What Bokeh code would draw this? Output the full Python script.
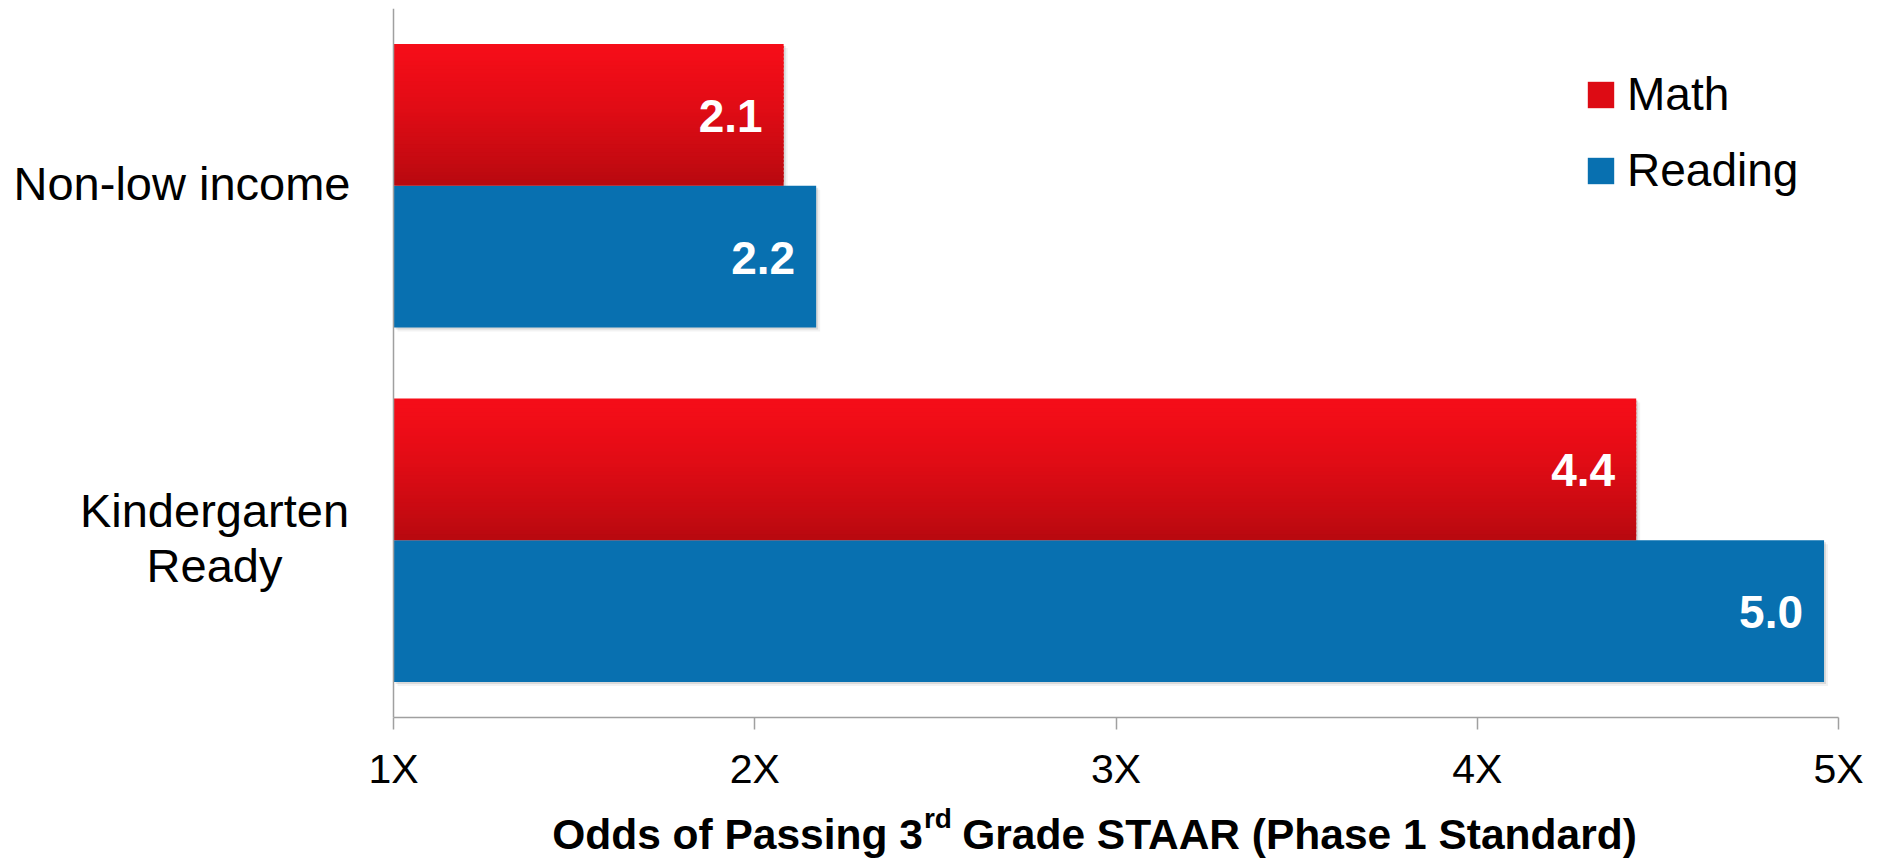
from bokeh.plotting import figure
from bokeh.layouts import column
from bokeh.models import Range1d, FixedTicker, Label, Legend, LegendItem, ColumnDataSource, Span
from bokeh.core.properties import value
from bokeh.embed import file_html
from bokeh.resources import INLINE

# ---------------- data ----------------
categories = ["Non-low income", "Kindergarten\nReady"]
series_names = ["Math", "Reading"]
math_values = [2.08, 4.44]
reading_values = [2.17, 4.96]
x_ticks = [1, 2, 3, 4, 5]
x_tick_labels = ["1X", "2X", "3X", "4X", "5X"]
x_title_parts = ["Odds of Passing 3", "rd", "Grade STAAR (Phase 1 Standard)"]

# ---------------- style / layout ----------------
FONT = "Liberation Sans"
RED_TOP = (245, 13, 24)
RED_BOTTOM = (184, 9, 15)
BLUE = "#0870B0"
AXIS_GRAY = "#A0A0A0"

W = 1873
H1 = 795          # main chart canvas
H2 = 63           # title strip canvas
AXIS_X0 = 393     # pixel where x = 1 sits
FR, FT = 35, 8
FB = H1 - 717
n = len(categories)
centers = [n - i - 0.5 for i in range(n)]
BAR_H = 0.4
frame_w = W - FR
frame_h = H1 - FT - FB
px_x = (frame_w - AXIS_X0) / (x_ticks[-1] - x_ticks[0])
px_y = frame_h / n
x_lo = x_ticks[0] - AXIS_X0 / px_x

p = figure(width=W, height=H1, output_backend="svg", toolbar_location=None,
           x_range=Range1d(x_lo, x_ticks[-1]), y_range=Range1d(0, n),
           min_border_left=0, min_border_right=FR, min_border_top=FT, min_border_bottom=FB)
p.outline_line_color = None
p.grid.visible = False
p.background_fill_color = "white"
p.border_fill_color = "white"
p.yaxis.visible = False

# x axis
p.xaxis.ticker = FixedTicker(ticks=x_ticks)
p.xaxis.bounds = (x_ticks[0], x_ticks[-1])
p.xaxis.major_label_overrides = {t: l for t, l in zip(x_ticks, x_tick_labels)}
p.xaxis.axis_line_color = AXIS_GRAY
p.xaxis.axis_line_width = 1.5
p.xaxis.major_tick_line_color = AXIS_GRAY
p.xaxis.major_tick_line_width = 1.5
p.xaxis.major_tick_out = 12
p.xaxis.major_tick_in = 0
p.xaxis.minor_tick_line_color = None
p.xaxis.major_label_text_font = FONT
p.xaxis.major_label_text_font_size = "41px"
p.xaxis.major_label_text_color = "black"
p.xaxis.major_label_standoff = 16

# y axis line
p.add_layout(Span(location=x_ticks[0], dimension="height", line_color=AXIS_GRAY, line_width=1.5))

# soft shadows
for off, a in [(2, 0.10), (4, 0.05)]:
    dx = off / px_x
    dy = off / px_y
    for vals, sign in [(math_values, 1), (reading_values, -1)]:
        p.hbar(y=[c + sign * BAR_H / 2 - dy for c in centers], left=x_ticks[0] + dx,
               right=[v + dx for v in vals], height=BAR_H,
               fill_color="black", fill_alpha=a, line_color=None)

# reading bars
r_read = p.hbar(y=[c - BAR_H / 2 for c in centers], left=x_ticks[0], right=reading_values,
                height=BAR_H, fill_color=BLUE, line_color=None)

# math bars with vertical gradient (strips drawn top to bottom, each overlapping upward)
N = 36
ov = 2.0 / px_y
hs = BAR_H / N
ys, hts, rights, cols = [], [], [], []
for c, v in zip(centers, math_values):
    top = c + BAR_H
    for k in range(N):
        t = ((k + 0.5) / N) ** 1.4
        col = tuple(int(round(a + (b - a) * t)) for a, b in zip(RED_TOP, RED_BOTTOM))
        b0 = top - (k + 1) * hs
        t0 = top - k * hs + (ov if k > 0 else 0)
        ys.append((b0 + t0) / 2)
        hts.append(t0 - b0)
        rights.append(v)
        cols.append("#%02x%02x%02x" % col)
msrc = ColumnDataSource(dict(y=ys, h=hts, right=rights, color=cols))
r_math = p.hbar(y="y", left=x_ticks[0], right="right", height="h",
                fill_color="color", line_color=None, source=msrc)

# value labels
vals_all = math_values + reading_values
lsrc = ColumnDataSource(dict(
    x=vals_all,
    y=[c + BAR_H / 2 for c in centers] + [c - BAR_H / 2 for c in centers],
    text=[f"{v:.1f}" for v in vals_all]))
p.text(x="x", y="y", text="text", source=lsrc, x_offset=-21, y_offset=1,
       text_align="right", text_baseline="middle", text_color="white",
       text_font=value(FONT), text_font_style="bold", text_font_size="46px")

# category labels
for c, name in zip(centers, categories):
    lines = name.split("\n")
    if len(lines) == 1:
        p.add_layout(Label(x=x_ticks[0], y=c, x_offset=-43, y_offset=2, text=lines[0],
                           text_align="right", text_baseline="middle",
                           text_font=FONT, text_font_size="47px", text_color="black"))
    else:
        step = 55
        first = (len(lines) - 1) * step / 2
        for j, ln in enumerate(lines):
            p.add_layout(Label(x=x_ticks[0], y=c, x_offset=-179, y_offset=first - j * step + 2,
                               text=ln, text_align="center", text_baseline="middle",
                               text_font=FONT, text_font_size="47px", text_color="black"))

# legend
legend = Legend(items=[LegendItem(label=series_names[0], renderers=[r_math], index=N // 2),
                       LegendItem(label=series_names[1], renderers=[r_read], index=0)],
                location=(1584, 520), orientation="vertical",
                glyph_width=33, glyph_height=33, label_standoff=10, spacing=22,
                padding=0, margin=0, border_line_color=None, background_fill_alpha=0,
                label_text_font=FONT, label_text_font_size="46px", label_text_color="black")
p.add_layout(legend)

# ---------------- axis title strip ----------------
t = figure(width=W, height=H2, output_backend="svg", toolbar_location=None,
           x_range=Range1d(0, W), y_range=Range1d(0, H2),
           min_border_left=0, min_border_right=0, min_border_top=0, min_border_bottom=0)
t.axis.visible = False
t.grid.visible = False
t.outline_line_color = None
t.background_fill_color = "white"
t.border_fill_color = "white"
SPLIT = 940
BASE = 24
t.add_layout(Label(x=SPLIT, y=BASE, text=x_title_parts[0], text_align="right",
                   text_baseline="alphabetic", text_font=FONT, text_font_style="bold",
                   text_font_size="42.5px", text_color="black"))
t.add_layout(Label(x=SPLIT + 1, y=BASE + 16, text=x_title_parts[1], text_align="left",
                   text_baseline="alphabetic", text_font=FONT, text_font_style="bold",
                   text_font_size="28px", text_color="black"))
t.add_layout(Label(x=SPLIT + 40, y=BASE, text=x_title_parts[2], text_align="left",
                   text_baseline="alphabetic", text_font=FONT, text_font_style="bold",
                   text_font_size="42.5px", text_color="black"))

layout = column(p, t, spacing=0)
open("out.html", "w").write(file_html(layout, INLINE))
